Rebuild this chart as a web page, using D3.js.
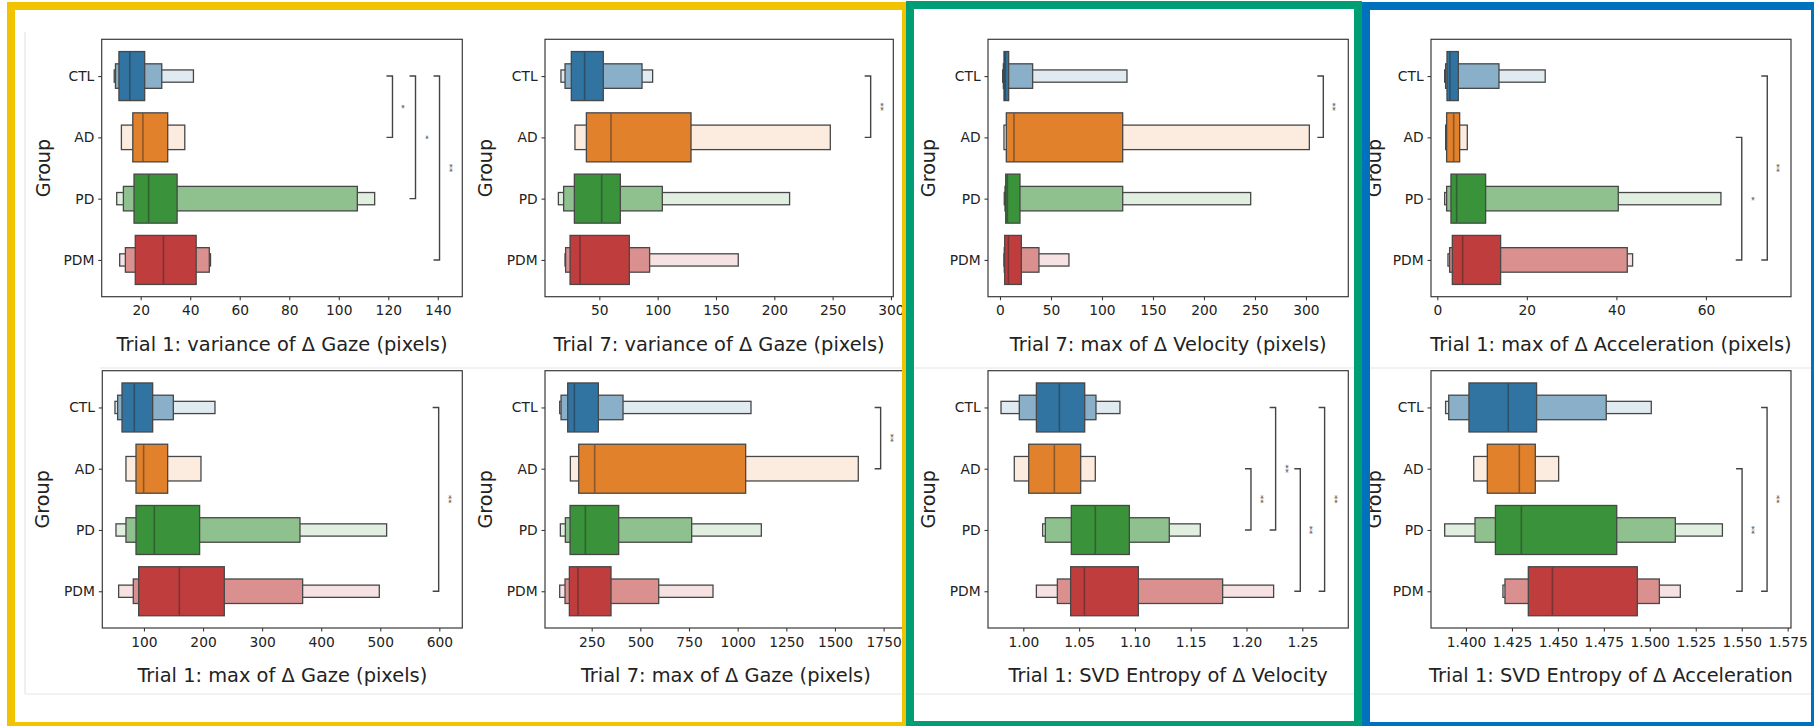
<!DOCTYPE html>
<html><head><meta charset="utf-8">
<script src="https://cdn.jsdelivr.net/npm/d3@7"></script>
<style>
body{margin:0;background:#fff;}
svg{display:block;}
text{font-family:"DejaVu Sans",sans-serif;fill:#222;}
</style>
</head><body>
<svg id="c" width="1814" height="726"></svg>
<script>
// ---------------- DATA ----------------
const groups = ["CTL", "AD", "PD", "PDM"];
const baseColors = ["#3274a1", "#e1812c", "#3a923a", "#c03d3e"];

// Letter-value boxes per group: [low, high] per level (inner -> outer)
const t1VarGazeLevels = [
  [[11.2, 21.6], [9.8, 28.5], [9.3, 41.3]],
  [[16.8, 30.9], [12.2, 37.8]],
  [[17.3, 34.7], [13.0, 107.5], [10.3, 114.5]],
  [[17.8, 42.4], [13.8, 47.7], [11.5, 48.2]]
];
const t1VarGazeMedians = [15.6, 20.9, 23.2, 29.2];
const t1VarGazeTicks = [20, 40, 60, 80, 100, 120, 140];
const t1VarGazeBrackets = [[0, 1, 121.7, "*"], [0, 2, 131.0, "*"], [0, 3, 140.7, "**"]];

const t7VarGazeLevels = [
  [[26.0, 53.4], [20.6, 86.6], [17.1, 95.7]],
  [[38.9, 128.6], [29.1, 248.0]],
  [[28.6, 68.0], [19.4, 104.0], [14.9, 213.1]],
  [[24.9, 75.7], [21.1, 93.1], [20.6, 169.1]]
];
const t7VarGazeMedians = [37.4, 60.0, 52.0, 33.4];
const t7VarGazeTicks = [50, 100, 150, 200, 250, 300];
const t7VarGazeBrackets = [[0, 1, 282.6, "**"]];

const t7MaxVelLevels = [
  [[3.9, 8.5], [3.3, 32.0], [2.6, 124.5]],
  [[6.2, 120.3], [3.9, 303.3]],
  [[5.6, 19.6], [4.9, 120.3], [4.2, 245.8]],
  [[4.6, 20.9], [4.2, 38.2], [3.9, 67.6]]
];
const t7MaxVelMedians = [5.2, 13.7, 7.2, 8.2];
const t7MaxVelTicks = [0, 50, 100, 150, 200, 250, 300];
const t7MaxVelBrackets = [[0, 1, 317.0, "**"]];

const t1MaxAccLevels = [
  [[2.16, 4.69], [1.86, 13.77], [1.64, 24.1]],
  [[2.08, 4.99], [1.86, 6.70]],
  [[3.05, 10.79], [2.08, 40.42], [1.64, 63.35]],
  [[3.35, 14.14], [2.75, 42.43], [2.38, 43.62]]
];
const t1MaxAccMedians = [2.83, 3.65, 4.32, 5.66];
const t1MaxAccTicks = [0, 20, 40, 60];
const t1MaxAccBrackets = [[1, 3, 68.0, "*"], [0, 3, 73.7, "**"]];

const t1MaxGazeLevels = [
  [[62.8, 114.7], [55.4, 149.7], [50.9, 220.2]],
  [[86.5, 140.1], [69.5, 196.5]],
  [[86.5, 194.2], [69.5, 364.1], [52.6, 510.8]],
  [[91.0, 236.0], [81.9, 368.6], [57.1, 498.4]]
];
const t1MaxGazeMedians = [83.6, 99.4, 117.5, 159.8];
const t1MaxGazeTicks = [100, 200, 300, 400, 500, 600];
const t1MaxGazeBrackets = [[0, 3, 598.9, "**"]];

const t7MaxGazeLevels = [
  [[126.7, 284.2], [92.5, 411.0], [85.6, 1068.5]],
  [[183.2, 1041.1], [140.4, 1619.8]],
  [[138.7, 388.7], [114.7, 763.7], [89.0, 1121.6]],
  [[135.3, 349.3], [113.0, 594.2], [85.6, 873.3]]
];
const t7MaxGazeMedians = [161.0, 265.4, 217.5, 179.8];
const t7MaxGazeTicks = [250, 500, 750, 1000, 1250, 1500, 1750];
const t7MaxGazeBrackets = [[0, 1, 1734.6, "**"]];

const t1SvdVelLevels = [
  [[1.0117, 1.0550], [0.9964, 1.0651], [0.9800, 1.0866]],
  [[1.0048, 1.0514], [0.9919, 1.0645]],
  [[1.0430, 1.0950], [1.0197, 1.1308], [1.0173, 1.1586]],
  [[1.0424, 1.1031], [1.0305, 1.1786], [1.0117, 1.2243]]
];
const t1SvdVelMedians = [1.0323, 1.0278, 1.0645, 1.0547];
const t1SvdVelTicks = [1.00, 1.05, 1.10, 1.15, 1.20, 1.25];
const t1SvdVelBrackets = [[1, 2, 1.2040, "**"], [0, 2, 1.2261, "**"], [1, 3, 1.2482, "**"], [0, 3, 1.2700, "**"]];

const t1SvdAccLevels = [
  [[1.4016, 1.4384], [1.3906, 1.4763], [1.3889, 1.5008]],
  [[1.4116, 1.4377], [1.4042, 1.4504]],
  [[1.4160, 1.4820], [1.4049, 1.5139], [1.3884, 1.5395]],
  [[1.4339, 1.4932], [1.4212, 1.5052], [1.4201, 1.5166]]
];
const t1SvdAccMedians = [1.4230, 1.4290, 1.4301, 1.4470];
const t1SvdAccTicks = [1.400, 1.425, 1.450, 1.475, 1.500, 1.525, 1.550, 1.575];
const t1SvdAccBrackets = [[1, 3, 1.5502, "**"], [0, 3, 1.5638, "**"]];

const titles = [
  "Trial 1: variance of \u0394 Gaze (pixels)",
  "Trial 7: variance of \u0394 Gaze (pixels)",
  "Trial 7: max of \u0394 Velocity (pixels)",
  "Trial 1: max of \u0394 Acceleration (pixels)",
  "Trial 1: max of \u0394 Gaze (pixels)",
  "Trial 7: max of \u0394 Gaze (pixels)",
  "Trial 1: SVD Entropy of \u0394 Velocity",
  "Trial 1: SVD Entropy of \u0394 Acceleration"
];
const yLabel = "Group";

// ---------------- LAYOUT ----------------
const TOP = [39.3, 296.7], BOT = [370.7, 628];
const f0 = d3.format("d"), f2 = d3.format(".2f"), f3 = d3.format(".3f");
const panels = [
  {lv: t1VarGazeLevels, md: t1VarGazeMedians, tk: t1VarGazeTicks, br: t1VarGazeBrackets, fmt: f0, x: [101.7, 462.3], y: TOP, dom: [4.24, 149.9], gx: 43},
  {lv: t7VarGazeLevels, md: t7VarGazeMedians, tk: t7VarGazeTicks, br: t7VarGazeBrackets, fmt: f0, x: [545, 893.3], y: TOP, dom: [3.43, 302.0], gx: 485},
  {lv: t7MaxVelLevels, md: t7MaxVelMedians, tk: t7MaxVelTicks, br: t7MaxVelBrackets, fmt: f0, x: [988, 1348.3], y: TOP, dom: [-11.76, 341.5], gx: 928},
  {lv: t1MaxAccLevels, md: t1MaxAccMedians, tk: t1MaxAccTicks, br: t1MaxAccBrackets, fmt: f0, x: [1431, 1791], y: TOP, dom: [-1.41, 79.0], gx: 1374},
  {lv: t1MaxGazeLevels, md: t1MaxGazeMedians, tk: t1MaxGazeTicks, br: t1MaxGazeBrackets, fmt: f0, x: [102.3, 462.3], y: BOT, dom: [29.45, 638.9], gx: 42.5},
  {lv: t7MaxGazeLevels, md: t7MaxGazeMedians, tk: t7MaxGazeTicks, br: t7MaxGazeBrackets, fmt: f0, x: [545, 906.6], y: BOT, dom: [10.1, 1868], gx: 485},
  {lv: t1SvdVelLevels, md: t1SvdVelMedians, tk: t1SvdVelTicks, br: t1SvdVelBrackets, fmt: f2, x: [988, 1348.3], y: BOT, dom: [0.96834, 1.29122], gx: 928},
  {lv: t1SvdAccLevels, md: t1SvdAccMedians, tk: t1SvdAccTicks, br: t1SvdAccBrackets, fmt: f3, x: [1431, 1791], y: BOT, dom: [1.38096, 1.57682], gx: 1374}
];

const svg = d3.select("#c");
svg.append("rect").attr("width", 1814).attr("height", 726).attr("fill", "#fff");

// faint edges of the pasted figure
const faint = svg.append("g").attr("stroke", "#e6e6e6").attr("stroke-width", 1.2).attr("fill", "none");
faint.append("line").attr("x1", 25).attr("y1", 32).attr("x2", 25).attr("y2", 694);
faint.append("line").attr("x1", 25).attr("y1", 694).attr("x2", 1812).attr("y2", 694);
faint.append("line").attr("x1", 100).attr("y1", 368).attr("x2", 1812).attr("y2", 368);

const EDGE = "#474747";
panels.forEach((p, pi) => {
  const g = svg.append("g");
  const x = d3.scaleLinear().domain(p.dom).range(p.x);
  const y = d3.scaleLinear().domain([-0.6, 3.6]).range(p.y);
  const band = y(1) - y(0);

  groups.forEach((grp, gi) => {
    const lv = p.lv[gi];
    const k = lv.length;
    const base = baseColors[gi];
    const pale = d3.interpolateRgb(base, "#ffffff")(0.85);
    for (let i = k - 1; i >= 0; i--) {
      const h = 0.8 * band * Math.pow(0.5, i);
      const col = k === 1 ? base : d3.interpolateRgb(base, pale)(i / (k - 1));
      g.append("rect")
        .attr("x", x(lv[i][0])).attr("y", y(gi) - h / 2)
        .attr("width", x(lv[i][1]) - x(lv[i][0])).attr("height", h)
        .attr("fill", col).attr("stroke", EDGE).attr("stroke-width", 1.3);
    }
    const h0 = 0.8 * band;
    g.append("line")
      .attr("x1", x(p.md[gi])).attr("x2", x(p.md[gi]))
      .attr("y1", y(gi) - h0 / 2 + 0.7).attr("y2", y(gi) + h0 / 2 - 0.7)
      .attr("stroke", "#262626").attr("stroke-opacity", 0.45).attr("stroke-width", 1.6);
  });

  // significance brackets
  p.br.forEach(([a, b, xv, lab]) => {
    const xx = x(xv);
    g.append("path")
      .attr("d", `M${xx - 6},${y(a)}H${xx}V${y(b)}H${xx - 6}`)
      .attr("fill", "none").attr("stroke", "#444").attr("stroke-width", 1.4);
    const ym = (y(a) + y(b)) / 2;
    g.append("text")
      .attr("transform", `translate(${xx + 9},${ym}) rotate(90)`)
      .attr("text-anchor", "middle").attr("dominant-baseline", "central")
      .attr("font-size", 8.5).style("fill", "#444").text(lab);
  });

  // spine
  g.append("rect")
    .attr("x", p.x[0]).attr("y", p.y[0])
    .attr("width", p.x[1] - p.x[0]).attr("height", p.y[1] - p.y[0])
    .attr("fill", "none").attr("stroke", "#3a3a3a").attr("stroke-width", 1.2);

  // axes
  const ax = g.append("g").attr("transform", `translate(0,${p.y[1]})`)
    .call(d3.axisBottom(x).tickValues(p.tk).tickFormat(p.fmt).tickSize(3.5).tickPadding(5.5));
  const ay = g.append("g").attr("transform", `translate(${p.x[0]},0)`)
    .call(d3.axisLeft(y).tickValues([0, 1, 2, 3]).tickFormat(i => groups[i]).tickSize(3.5).tickPadding(3.9));
  [ax, ay].forEach(a => {
    a.select(".domain").remove();
    a.selectAll("line").attr("stroke", "#3a3a3a").attr("stroke-width", 1.1);
    a.selectAll("text").attr("font-size", 13.8).style("fill", "#222")
      .attr("font-family", "DejaVu Sans, sans-serif");
  });

  // x title
  g.append("text")
    .attr("x", (p.x[0] + p.x[1]) / 2).attr("y", p.y[1] + 54)
    .attr("text-anchor", "middle").attr("font-size", 19.4).text(titles[pi]);
  // y label
  g.append("text")
    .attr("transform", `translate(${p.gx},${(p.y[0] + p.y[1]) / 2}) rotate(-90)`)
    .attr("text-anchor", "middle").attr("dominant-baseline", "central")
    .attr("font-size", 19.2).text(yLabel);
});

// coloured frames
const frames = [
  {x1: 11, y1: 6, x2: 906, y2: 726, c: "#f2c300"},
  {x1: 910, y1: 5, x2: 1358, y2: 725, c: "#009e74"},
  {x1: 1366, y1: 6, x2: 1815, y2: 726, c: "#0072bd"}
];
frames.forEach(f => {
  svg.append("rect").attr("x", f.x1).attr("y", f.y1)
    .attr("width", f.x2 - f.x1).attr("height", f.y2 - f.y1)
    .attr("fill", "none").attr("stroke", f.c).attr("stroke-width", 8);
});
</script>
</body></html>
